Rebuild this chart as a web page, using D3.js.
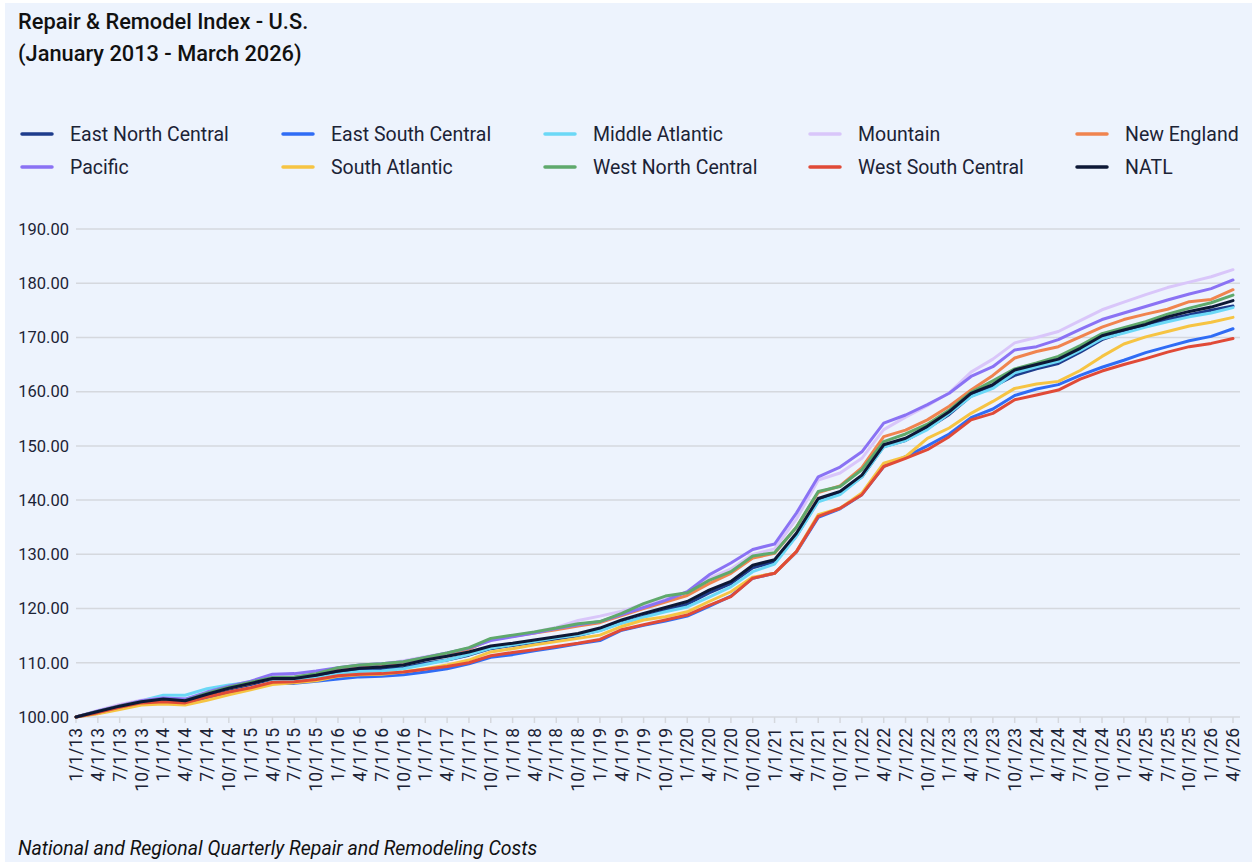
<!DOCTYPE html>
<html lang='en'>
	<head>
		<meta charset='utf-8'>
		<title>Repair & Remodel Index</title>
		<script type='text/javascript' src='https://cdn.jsdelivr.net/npm/d3@7/dist/d3.min.js'></script>
		<style>
			body { margin: 0; background: #ffffff; font-family: Roboto, 'Noto Sans', sans-serif; }
			g.grid line { stroke: #d5d8de; stroke-width: 1.5px; }
			g.lines path { fill: none; stroke-width: 3px; stroke-linejoin: round; stroke-linecap: round; }
			text { fill: #1c2336; }
		</style>
	</head>
	<body>
		<script type='text/javascript'>
			var width = 1252;
			var height = 862;

			// quarter labels, 1/1/13 .. 4/1/26
			var quarters = ['1/1/13','4/1/13','7/1/13','10/1/13','1/1/14','4/1/14','7/1/14','10/1/14',
				'1/1/15','4/1/15','7/1/15','10/1/15','1/1/16','4/1/16','7/1/16','10/1/16',
				'1/1/17','4/1/17','7/1/17','10/1/17','1/1/18','4/1/18','7/1/18','10/1/18',
				'1/1/19','4/1/19','7/1/19','10/1/19','1/1/20','4/1/20','7/1/20','10/1/20',
				'1/1/21','4/1/21','7/1/21','10/1/21','1/1/22','4/1/22','7/1/22','10/1/22',
				'1/1/23','4/1/23','7/1/23','10/1/23','1/1/24','4/1/24','7/1/24','10/1/24',
				'1/1/25','4/1/25','7/1/25','10/1/25','1/1/26','4/1/26'];

			var yTicks = [100,110,120,130,140,150,160,170,180,190];

			var eastNorthCentral = [100.0,100.9,101.9,102.7,103.2,103.0,104.0,105.1,106.0,107.0,107.0,107.5,108.3,108.7,108.8,109.1,
				109.9,110.5,111.4,112.6,113.2,113.8,114.4,115.0,116.0,117.4,118.6,119.7,120.8,122.9,124.6,127.5,
				128.6,133.4,139.9,141.3,144.3,149.9,151.0,153.2,155.8,159.2,160.9,163.0,164.2,165.2,167.3,169.6,
				171.0,172.1,173.3,174.2,175.0,175.8];
			var eastSouthCentral = [100.0,100.7,101.6,102.4,102.9,102.6,103.6,104.4,105.2,106.2,106.2,106.6,107.0,107.4,107.5,107.8,
				108.3,108.9,109.8,111.0,111.5,112.2,112.8,113.5,114.1,116.0,116.9,117.7,118.6,120.4,122.3,125.6,
				126.5,130.4,136.8,138.4,141.0,146.2,148.0,150.0,152.2,155.2,156.8,159.3,160.5,161.3,163.0,164.5,
				165.8,167.2,168.3,169.4,170.2,171.6];
			var middleAtlantic = [100.0,101.0,102.0,103.0,104.0,104.0,105.2,105.9,106.4,107.0,106.9,107.2,107.9,108.4,108.5,108.9,
				109.7,110.5,111.5,112.7,113.3,113.9,114.6,115.1,115.9,117.3,118.4,119.4,120.3,122.1,124.0,126.8,
				128.2,133.3,139.7,141.0,144.3,149.8,151.0,153.0,156.0,159.1,160.6,163.5,164.6,165.6,167.6,169.8,
				170.8,171.9,172.9,173.8,174.5,175.5];
			var mountain = [100.0,101.2,102.3,103.1,103.5,103.3,104.4,105.4,106.3,107.5,107.8,108.3,109.0,109.6,109.8,110.4,
				111.1,111.8,112.6,114.2,114.9,115.7,116.5,117.8,118.6,119.5,120.8,122.0,123.0,125.5,127.3,130.0,
				131.0,136.5,143.7,145.0,147.7,153.0,155.3,157.4,159.8,163.6,166.0,169.0,170.0,171.1,173.1,175.1,
				176.5,177.9,179.2,180.2,181.2,182.5];
			var newEngland = [100.0,101.0,102.1,102.9,103.3,103.1,104.3,105.3,106.2,107.2,107.3,107.9,108.7,109.3,109.5,110.0,
				110.9,111.6,112.5,114.3,114.9,115.5,116.1,116.8,117.4,118.7,120.0,121.2,122.4,124.6,126.5,129.3,
				130.2,135.0,141.4,142.6,146.0,151.7,152.9,154.8,157.3,160.3,163.0,166.2,167.4,168.3,170.1,171.9,
				173.3,174.3,175.2,176.6,177.0,178.8];
			var pacific = [100.0,101.1,102.1,103.0,103.5,103.3,104.6,105.7,106.6,107.9,108.0,108.5,109.1,109.6,109.8,110.2,
				111.0,111.8,112.7,114.1,114.8,115.5,116.3,117.0,117.6,118.9,120.2,121.5,123.1,126.2,128.4,130.9,
				131.9,137.6,144.3,146.1,148.9,154.2,155.7,157.6,159.7,162.8,164.6,167.7,168.3,169.6,171.5,173.3,
				174.5,175.7,176.9,178.0,179.0,180.6];
			var southAtlantic = [100.0,100.6,101.4,102.2,102.4,102.2,103.1,104.1,105.0,106.0,106.3,106.7,107.5,107.8,107.9,108.3,
				108.9,109.6,110.5,112.0,112.6,113.3,113.9,114.5,115.1,116.7,117.9,118.5,119.4,121.3,123.1,125.8,
				126.5,130.5,137.3,138.5,141.3,146.8,148.0,151.4,153.3,156.0,158.2,160.6,161.4,161.9,163.9,166.5,
				168.8,170.1,171.1,172.1,172.8,173.7];
			var westNorthCentral = [100.0,101.0,102.0,102.8,103.2,103.0,104.4,105.5,106.4,107.3,107.4,108.0,109.1,109.6,109.8,110.2,
				111.0,111.8,112.8,114.5,115.1,115.7,116.4,117.2,117.6,119.1,120.9,122.3,122.9,125.2,126.8,129.7,
				130.3,135.0,141.6,142.5,145.6,150.8,152.2,154.0,156.6,159.9,162.0,164.2,165.3,166.5,168.5,170.7,
				171.8,172.9,174.3,175.4,176.4,177.8];
			var westSouthCentral = [100.0,100.8,101.8,102.6,102.8,102.6,103.7,104.6,105.4,106.4,106.5,106.9,107.6,107.9,108.0,108.3,
				108.8,109.3,110.0,111.3,111.9,112.4,113.0,113.6,114.3,116.1,117.0,117.9,118.8,120.6,122.2,125.6,
				126.5,130.5,137.0,138.5,141.0,146.2,147.7,149.3,151.7,154.8,156.0,158.5,159.4,160.3,162.3,163.8,
				165.0,166.1,167.3,168.3,168.9,169.8];
			var natl = [100.0,101.0,102.0,102.8,103.3,103.0,104.2,105.3,106.2,107.1,107.1,107.7,108.5,109.0,109.2,109.6,
				110.5,111.2,112.0,113.1,113.6,114.2,114.8,115.4,116.4,117.9,119.1,120.2,121.3,123.4,125.0,128.0,
				129.0,133.9,140.3,141.6,144.6,150.2,151.4,153.6,156.3,159.7,161.3,164.0,165.0,166.0,168.0,170.3,
				171.4,172.4,173.8,174.8,175.6,176.8];

			var seriesNames = ['East North Central','East South Central','Middle Atlantic','Mountain','New England',
				'Pacific','South Atlantic','West North Central','West South Central','NATL'];
			var seriesValues = [eastNorthCentral, eastSouthCentral, middleAtlantic, mountain, newEngland,
				pacific, southAtlantic, westNorthCentral, westSouthCentral, natl];
			var seriesColors = ['#1e3c8c','#2f6cf5','#6bd8f6','#d9c6fa','#f0844f',
				'#8a72f4','#f6c443','#5fa96c','#e04a37','#0d1836'];

			var x = d3.scalePoint().domain(quarters).range([76, 1233]);
			var y = d3.scaleLinear().domain([100, 190]).range([717, 229]);

			var svg = d3.select('body').append('svg')
				.attr('width', width)
				.attr('height', height);

			svg.append('rect')
				.attr('x', 5).attr('y', 3)
				.attr('width', width - 5).attr('height', height - 3)
				.attr('fill', '#edf3fd');

			// title
			svg.append('text').attr('x', 18).attr('y', 29)
				.style('font-size', '21.8px').style('font-weight', 500).style('fill', '#111')
				.text('Repair & Remodel Index - U.S.');
			svg.append('text').attr('x', 18).attr('y', 61)
				.style('font-size', '21.8px').style('font-weight', 500).style('fill', '#111')
				.text('(January 2013 - March 2026)');

			// legend
			var legX = [22, 283, 545, 810, 1077];
			var legend = svg.append('g').attr('class', 'legend')
				.selectAll('g')
				.data(seriesNames)
				.enter().append('g')
					.attr('transform', function(d, i) {
						return 'translate(' + legX[i % 5] + ',' + (134 + Math.floor(i / 5) * 33) + ')';
					});
			legend.append('line')
				.attr('x1', 0).attr('x2', 30)
				.attr('stroke', function(d, i) { return seriesColors[i]; })
				.attr('stroke-width', 3.5)
				.attr('stroke-linecap', 'round');
			legend.append('text')
				.attr('x', 48).attr('dy', '0.35em')
				.style('font-size', '19.5px')
				.text(function(d) { return d; });

			// grid
			svg.append('g').attr('class', 'grid')
				.selectAll('line')
				.data(yTicks)
				.enter().append('line')
					.attr('x1', 76).attr('x2', 1240)
					.attr('y1', function(d) { return y(d); })
					.attr('y2', function(d) { return y(d); });

			// y labels
			svg.append('g')
				.selectAll('text')
				.data(yTicks)
				.enter().append('text')
					.attr('x', 69)
					.attr('y', function(d) { return y(d); })
					.attr('dy', '0.35em')
					.attr('text-anchor', 'end')
					.style('font-size', '16.5px')
					.text(function(d) { return d.toFixed(2); });

			// x axis ticks and labels
			var xAxis = svg.append('g');
			xAxis.selectAll('line')
				.data(quarters)
				.enter().append('line')
					.attr('x1', function(d) { return x(d); })
					.attr('x2', function(d) { return x(d); })
					.attr('y1', 717).attr('y2', 723)
					.attr('stroke', '#d5d8de').attr('stroke-width', 1.5);
			xAxis.selectAll('text')
				.data(quarters)
				.enter().append('text')
					.attr('transform', function(d) { return 'translate(' + x(d) + ',728) rotate(-90)'; })
					.attr('dy', '0.35em')
					.attr('text-anchor', 'end')
					.style('font-size', '17.5px')
					.text(function(d) { return d; });

			// lines
			var line = d3.line()
				.x(function(d, i) { return x(quarters[i]); })
				.y(function(d) { return y(d); });

			svg.append('g').attr('class', 'lines')
				.selectAll('path')
				.data(seriesValues)
				.enter().append('path')
					.attr('stroke', function(d, i) { return seriesColors[i]; })
					.attr('d', line);

			// footnote
			svg.append('text').attr('x', 18).attr('y', 855)
				.style('font-size', '19.5px').style('font-style', 'italic').style('fill', '#111')
				.text('National and Regional Quarterly Repair and Remodeling Costs');
		</script>
	</body>
</html>
